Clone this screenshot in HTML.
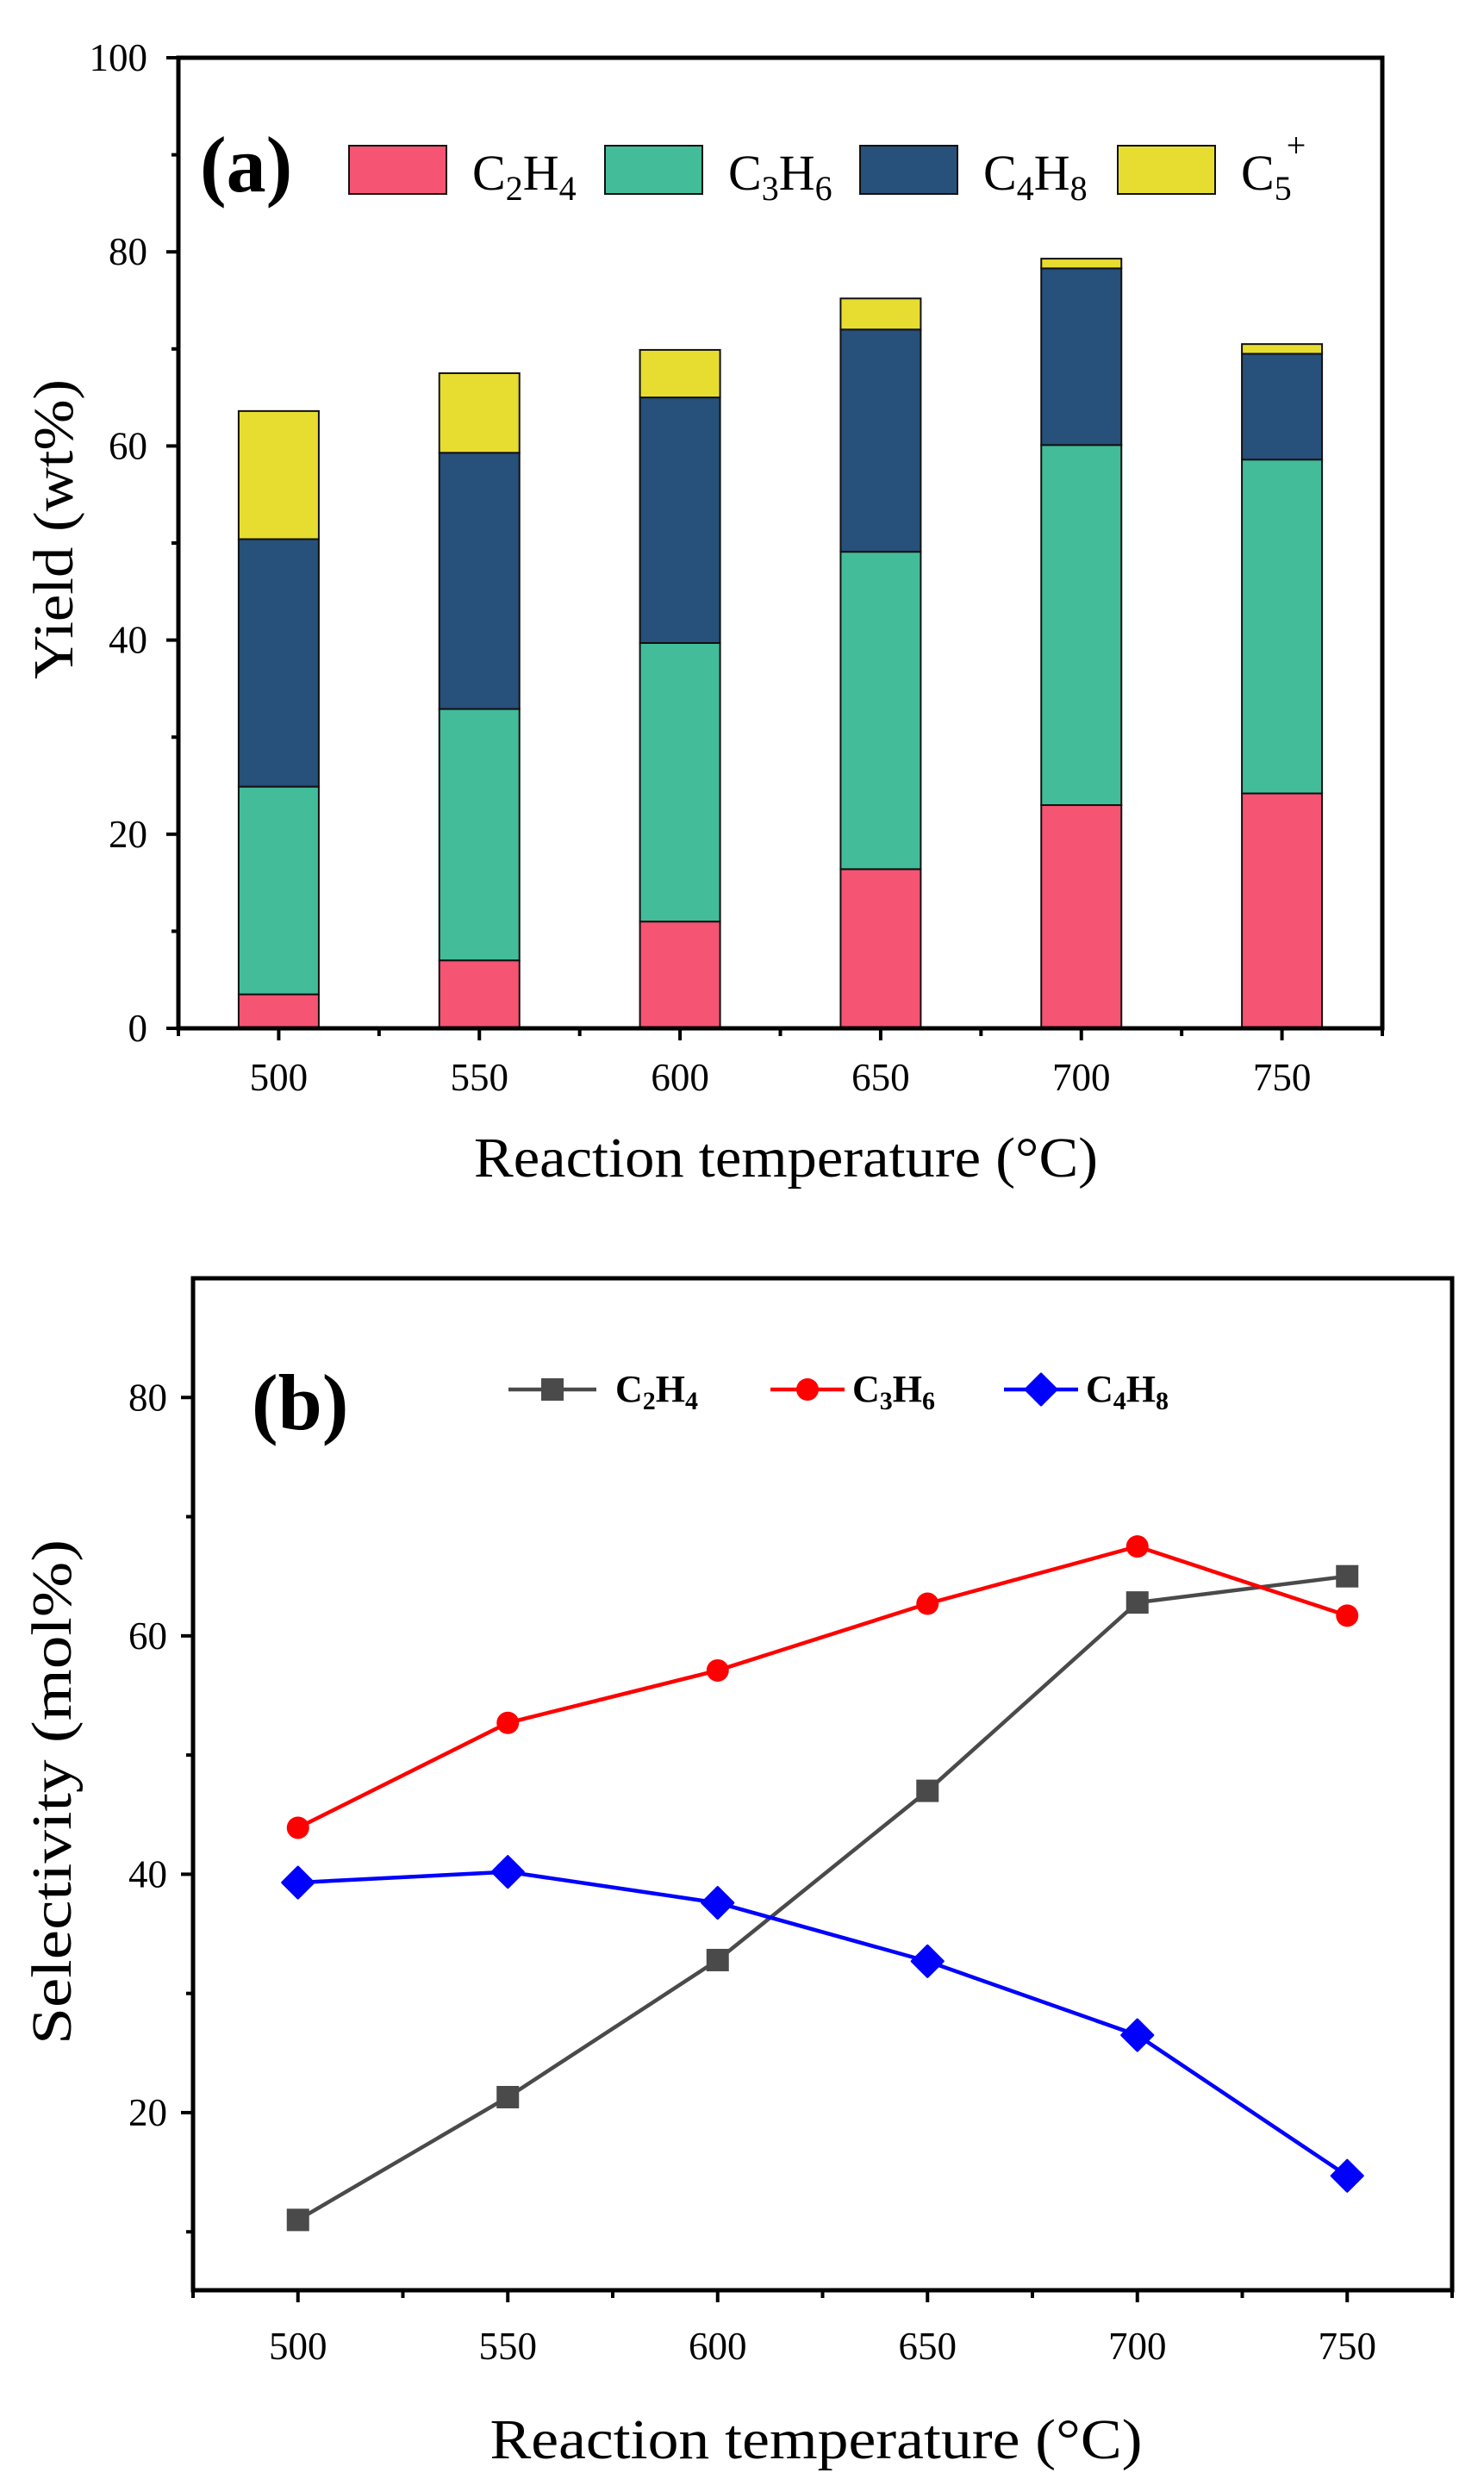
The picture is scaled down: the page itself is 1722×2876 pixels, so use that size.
<!DOCTYPE html>
<html><head><meta charset="utf-8">
<style>
html,body{margin:0;padding:0;background:#fff;}
svg{display:block;font-family:"Liberation Serif",serif;}
</style></head>
<body>
<svg id="fig" width="1722" height="2876" viewBox="0 0 1722 2876" xmlns="http://www.w3.org/2000/svg"></svg>
<script>
// ---- Chart (a) data ----
const catsA = [500, 550, 600, 650, 700, 750];
const yieldC2H4 = [3.5, 7.0, 11.0, 16.4, 23.0, 24.2];
const yieldC3H6 = [21.4, 25.9, 28.7, 32.7, 37.1, 34.4];
const yieldC4H8 = [25.5, 26.4, 25.3, 22.9, 18.2, 10.9];
const yieldC5 = [13.2, 8.2, 4.9, 3.2, 1.0, 1.0];
const yTicksA = [0, 20, 40, 60, 80, 100];
const xTicksA = [500, 550, 600, 650, 700, 750];
// ---- Chart (b) data ----
const catsB = [500, 550, 600, 650, 700, 750];
const selC2H4 = [11.0, 21.3, 32.8, 47.0, 62.8, 65.0];
const selC3H6 = [43.9, 52.7, 57.1, 62.7, 67.5, 61.7];
const selC4H8 = [39.3, 40.2, 37.6, 32.7, 26.5, 14.7];
const yTicksB = [20, 40, 60, 80];
const yMinorB = [10, 30, 50, 70];
const xTicksB = [500, 550, 600, 650, 700, 750];

const NS = "http://www.w3.org/2000/svg";
const svg = document.getElementById('fig');
function mk(tag, attrs, parent){
  const e = document.createElementNS(NS, tag);
  for (const k in attrs) e.setAttribute(k, attrs[k]);
  (parent||svg).appendChild(e);
  return e;
}

// ===== Chart A =====
const A = {l:207, r:1604, t:67, b:1193, x0:475, x1:775, y0:0, y1:100};
const xA = v => A.l + (v - A.x0) / (A.x1 - A.x0) * (A.r - A.l);
const yA = v => A.b - (v - A.y0) / (A.y1 - A.y0) * (A.b - A.t);
const gA = mk('g', {});



const seriesA = [
  {name:'c2h4', vals:yieldC2H4, color:'#f65473'},
  {name:'c3h6', vals:yieldC3H6, color:'#43bc9a'},
  {name:'c4h8', vals:yieldC4H8, color:'#27507a'},
  {name:'c5plus', vals:yieldC5, color:'#e7dd30'}
];
const barW = 93;
catsA.forEach((c, i) => {
  let base = 0;
  seriesA.forEach(s => {
    const top = base + s.vals[i];
    const r = mk('rect', {x: xA(c) - barW/2, y: yA(top), width: barW, height: yA(base) - yA(top), fill: s.color, stroke: '#111', 'stroke-width': 2}, gA);
    
    
    base = top;
  });
});
const frA = mk('rect', {x:A.l, y:A.t, width:A.r-A.l, height:A.b-A.t, fill:'none', stroke:'#000', 'stroke-width':5}, gA);


yTicksA.forEach(v => {
  mk('line', {x1:A.l-14, x2:A.l, y1:yA(v), y2:yA(v), stroke:'#000', 'stroke-width':4}, gA);
  const t = mk('text', {x:A.l-36, y:yA(v)+15, 'text-anchor':'end', 'font-size':45}, gA);
  t.textContent = v;
  
  
});
for (let v = 10; v < 100; v += 20) mk('line', {x1:A.l-8, x2:A.l, y1:yA(v), y2:yA(v), stroke:'#000', 'stroke-width':4}, gA);
xTicksA.forEach(v => {
  mk('line', {x1:xA(v), x2:xA(v), y1:A.b, y2:A.b+14, stroke:'#000', 'stroke-width':4}, gA);
  const t = mk('text', {x:xA(v), y:A.b+72, 'text-anchor':'middle', 'font-size':45}, gA);
  t.textContent = v;
  
  
});
for (let v = 475; v <= 775; v += 50) mk('line', {x1:xA(v), x2:xA(v), y1:A.b, y2:A.b+9, stroke:'#000', 'stroke-width':4}, gA);
</script>
<script>
(function(){
  const ya = mk('text', {x:0, y:0, transform:'translate(84,614) rotate(-90)', 'text-anchor':'middle', 'font-size':66, textLength:348, lengthAdjust:'spacingAndGlyphs'});
  ya.textContent = 'Yield (wt%)';
  
  
  const xa = mk('text', {x:912, y:1365, 'text-anchor':'middle', 'font-size':66, textLength:724, lengthAdjust:'spacingAndGlyphs'});
  xa.textContent = 'Reaction temperature (°C)';
  
  
  const pa = mk('text', {x:232, y:222, 'font-size':92, 'font-weight':'bold'});
  pa.textContent = '(a)';
  
  
  const leg = [
    {x:405, color:'#f65473', s1:'2', s2:'4', sup:false},
    {x:702, color:'#43bc9a', s1:'3', s2:'6', sup:false},
    {x:998, color:'#27507a', s1:'4', s2:'8', sup:false},
    {x:1297, color:'#e7dd30', s1:'5', s2:'', sup:true}
  ];
  leg.forEach(l => {
    const g = mk('g', {});
    
    
    mk('rect', {x:l.x, y:169, width:113, height:56, fill:l.color, stroke:'#111', 'stroke-width':2}, g);
    const t = mk('text', {x:l.x+143, y:220, 'font-size':58}, g);
    let h = 'C<tspan font-size="40" dy="12">' + l.s1 + '</tspan>';
    if (!l.sup) h += '<tspan dy="-12">H</tspan><tspan font-size="40" dy="12">' + l.s2 + '</tspan>';
    else h += '<tspan font-size="40" dx="-6" dy="-50">+</tspan>';
    t.innerHTML = h;
  });
})();
</script>
<script>
// ===== Chart B =====
const B = {l:224, r:1685, t:1483, b:2657, x0:475, x1:775, y0:5.1, y1:90};
const xB = v => B.l + (v - B.x0) / (B.x1 - B.x0) * (B.r - B.l);
const yB = v => B.b - (v - B.y0) / (B.y1 - B.y0) * (B.b - B.t);
const gB = mk('g', {});


const frB = mk('rect', {x:B.l, y:B.t, width:B.r-B.l, height:B.b-B.t, fill:'none', stroke:'#000', 'stroke-width':5}, gB);


yTicksB.forEach(v => {
  mk('line', {x1:B.l-14, x2:B.l, y1:yB(v), y2:yB(v), stroke:'#000', 'stroke-width':4}, gB);
  const t = mk('text', {x:B.l-30, y:yB(v)+15, 'text-anchor':'end', 'font-size':45}, gB);
  t.textContent = v;
  
  
});
yMinorB.forEach(v => mk('line', {x1:B.l-8, x2:B.l, y1:yB(v), y2:yB(v), stroke:'#000', 'stroke-width':4}, gB));
xTicksB.forEach(v => {
  mk('line', {x1:xB(v), x2:xB(v), y1:B.b, y2:B.b+14, stroke:'#000', 'stroke-width':4}, gB);
  const t = mk('text', {x:xB(v), y:B.b+80, 'text-anchor':'middle', 'font-size':45}, gB);
  t.textContent = v;
  
  
});
for (let v = 475; v <= 775; v += 50) mk('line', {x1:xB(v), x2:xB(v), y1:B.b, y2:B.b+9, stroke:'#000', 'stroke-width':4}, gB);

function marker(kind, cx, cy, color, parent){
  if (kind === 'square') return mk('rect', {x:cx-13, y:cy-13, width:26, height:26, fill:color}, parent);
  if (kind === 'circle') return mk('circle', {cx:cx, cy:cy, r:13, fill:color}, parent);
  return mk('path', {d:`M${cx} ${cy-18} L${cx+18} ${cy} L${cx} ${cy+18} L${cx-18} ${cy} Z`, fill:color, 'stroke':color, 'stroke-width':3, 'stroke-linejoin':'round'}, parent);
}
const seriesB = [
  {name:'c2h4', vals:selC2H4, color:'#4a4a4a', kind:'square'},
  {name:'c3h6', vals:selC3H6, color:'#ff0000', kind:'circle'},
  {name:'c4h8', vals:selC4H8, color:'#0000ff', kind:'diamond'}
];
seriesB.forEach(s => {
  const g = mk('g', {}, gB);
  
  
  const pts = catsB.map((c, i) => xB(c) + ',' + yB(s.vals[i])).join(' ');
  const pl = mk('polyline', {points:pts, fill:'none', stroke:s.color, 'stroke-width':4.5}, g);
  
  
  catsB.forEach((c, i) => {
    const m = marker(s.kind, xB(c), yB(s.vals[i]), s.color, g);
    
    
  });
});
(function(){
  const yt = mk('text', {x:0, y:0, transform:'translate(82,2079) rotate(-90)', 'text-anchor':'middle', 'font-size':66, textLength:586, lengthAdjust:'spacingAndGlyphs'});
  yt.textContent = 'Selectivity (mol%)';
  
  
  const xt = mk('text', {x:947, y:2852, 'text-anchor':'middle', 'font-size':66, textLength:757, lengthAdjust:'spacingAndGlyphs'});
  xt.textContent = 'Reaction temperature (°C)';
  
  
  const pb = mk('text', {x:292, y:1658, 'font-size':92, 'font-weight':'bold'});
  pb.textContent = '(b)';
  
  
  const leg = [
    {x1:590, x2:692, color:'#4a4a4a', kind:'square', tx:714, s1:'2', s2:'4'},
    {x1:894, x2:980, color:'#ff0000', kind:'circle', tx:989, s1:'3', s2:'6'},
    {x1:1165, x2:1251, color:'#0000ff', kind:'diamond', tx:1260, s1:'4', s2:'8'}
  ];
  leg.forEach(l => {
    const g = mk('g', {});
    
    
    mk('line', {x1:l.x1, x2:l.x2, y1:1612, y2:1612, stroke:l.color, 'stroke-width':4.5}, g);
    marker(l.kind, (l.x1+l.x2)/2, 1612, l.color, g);
    const t = mk('text', {x:l.tx, y:1626, 'font-size':44, 'font-weight':'bold'}, g);
    t.innerHTML = 'C<tspan font-size="30" dy="9">' + l.s1 + '</tspan><tspan dy="-9">H</tspan><tspan font-size="30" dy="9">' + l.s2 + '</tspan>';
  });
})();
</script>
</body></html>
